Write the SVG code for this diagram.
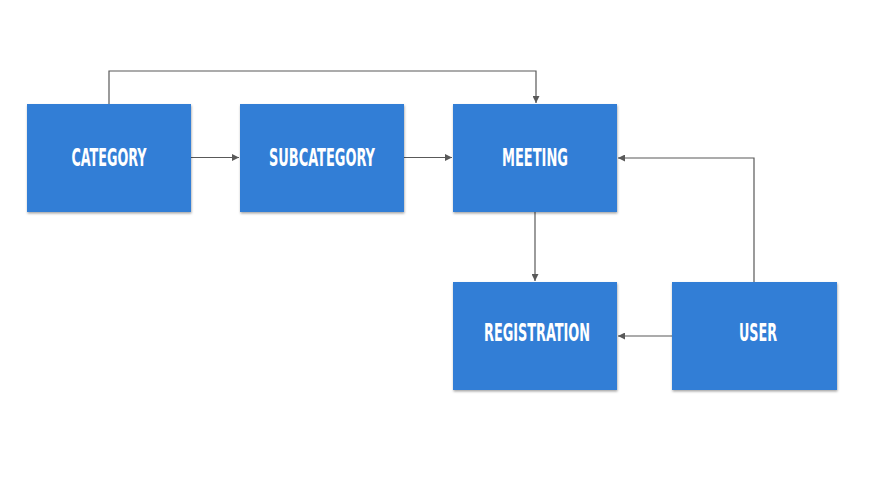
<svg xmlns="http://www.w3.org/2000/svg" width="869" height="484" viewBox="0 0 869 484">
<defs>
<filter id="sh" x="-10%" y="-10%" width="120%" height="125%">
<feDropShadow dx="0.5" dy="1.5" stdDeviation="1.2" flood-color="#000" flood-opacity="0.35"/>
</filter>
<marker id="ar" viewBox="0 0 10 10" refX="10" refY="5" markerWidth="8" markerHeight="7" markerUnits="userSpaceOnUse" orient="auto">
<path d="M0,0 L10,5 L0,10 Z" fill="#595959"/>
</marker>
<style>
.box{fill:#317ed6;filter:url(#sh)}
.lbl{font-family:"DejaVu Sans Condensed","Liberation Sans",sans-serif;font-weight:bold;font-size:24px;fill:#fff;text-anchor:middle}
.c{fill:none;stroke:#595959;stroke-width:1.2;marker-end:url(#ar)}
</style>
</defs>
<rect width="869" height="484" fill="#fff"/>
<g id="connectors">
<path class="c" d="M109,104 V71 H536 V103"/>
<path class="c" d="M191,157.5 H239"/>
<path class="c" d="M404,157.5 H452"/>
<path class="c" d="M535,212 V281"/>
<path class="c" d="M754,282 V158 H618"/>
<path class="c" d="M672,336 H618"/>
</g>
<g id="category"><rect class="box" x="27" y="104" width="164" height="108"/><text class="lbl" x="109" y="166" textLength="75" lengthAdjust="spacingAndGlyphs">CATEGORY</text></g>
<g id="subcategory"><rect class="box" x="240" y="104" width="164" height="108"/><text class="lbl" x="322" y="166" textLength="106" lengthAdjust="spacingAndGlyphs">SUBCATEGORY</text></g>
<g id="meeting"><rect class="box" x="453" y="104" width="164" height="108"/><text class="lbl" x="535" y="166" textLength="66" lengthAdjust="spacingAndGlyphs">MEETING</text></g>
<g id="registration"><rect class="box" x="453" y="282" width="164" height="108"/><text class="lbl" x="537" y="341" textLength="106" lengthAdjust="spacingAndGlyphs">REGISTRATION</text></g>
<g id="user"><rect class="box" x="672" y="282" width="165" height="108"/><text class="lbl" x="758" y="341" textLength="38" lengthAdjust="spacingAndGlyphs">USER</text></g>
</svg>
